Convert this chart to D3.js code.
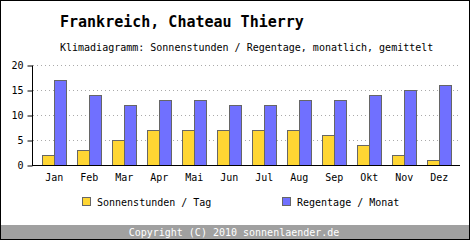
<!DOCTYPE html>
<html>
<head>
<meta charset="utf-8">
<script src="https://cdn.jsdelivr.net/npm/d3@7"></script>
<style>
  body { margin: 0; background: #fff; }
  text { font-family: "DejaVu Sans Mono", "Liberation Mono", monospace; }
</style>
</head>
<body>
<script>
// month names, sun hours per day, rain days per month
var months = ["Jan", "Feb", "Mar", "Apr", "Mai", "Jun", "Jul", "Aug", "Sep", "Okt", "Nov", "Dez"];
var sunHours = [2, 3, 5, 7, 7, 7, 7, 7, 6, 4, 2, 1];
var rainDays = [17, 14, 12, 13, 13, 12, 12, 13, 13, 14, 15, 16];
var yTicks = [0, 5, 10, 15, 20];

var width = 470, height = 240;

var svg = d3.select("body").append("svg")
    .attr("width", width)
    .attr("height", height);

svg.append("rect")
    .attr("x", 0.5).attr("y", 0.5)
    .attr("width", width - 1).attr("height", height - 1)
    .style("fill", "#fff")
    .style("stroke", "#000");

// title
svg.append("text")
    .attr("x", 60).attr("y", 27)
    .style("font-size", "15px")
    .style("font-weight", "bold")
    .text("Frankreich, Chateau Thierry");

svg.append("text")
    .attr("x", 60).attr("y", 51)
    .style("font-size", "10px")
    .text("Klimadiagramm: Sonnenstunden / Regentage, monatlich, gemittelt");

var xScale = d3.scaleBand()
    .domain(months)
    .range([36.8, 456.8]);

var yScale = d3.scaleLinear()
    .domain([0, 20])
    .range([165, 65]);

var barW = 12;

// grid lines
svg.selectAll("line.grid")
    .data(yTicks.slice(1))
    .enter()
    .append("line")
    .attr("class", "grid")
    .attr("x1", 33)
    .attr("x2", 460)
    .attr("y1", function (d) { return yScale(d) + 0.5; })
    .attr("y2", function (d) { return yScale(d) + 0.5; })
    .style("stroke", "#aaa")
    .style("stroke-dasharray", "1,3");

// sun bars
svg.selectAll("rect.sun")
    .data(sunHours)
    .enter()
    .append("rect")
    .attr("class", "sun")
    .attr("x", function (d, i) { return Math.round(xScale(months[i]) + xScale.bandwidth() / 2 - barW) + 0.5; })
    .attr("y", function (d) { return Math.round(yScale(d)) + 0.5; })
    .attr("width", barW)
    .attr("height", function (d) { return yScale(0) - Math.round(yScale(d)); })
    .style("fill", "#ffd633")
    .style("stroke", "#666");

// rain bars
svg.selectAll("rect.rain")
    .data(rainDays)
    .enter()
    .append("rect")
    .attr("class", "rain")
    .attr("x", function (d, i) { return Math.round(xScale(months[i]) + xScale.bandwidth() / 2) + 0.5; })
    .attr("y", function (d) { return Math.round(yScale(d)) + 0.5; })
    .attr("width", barW)
    .attr("height", function (d) { return yScale(0) - Math.round(yScale(d)); })
    .style("fill", "#7070ff")
    .style("stroke", "#666");

// axes
var yAxis = d3.axisLeft(yScale)
    .tickValues(yTicks)
    .tickSize(5)
    .tickPadding(4);
var yAxisGroup = svg.append("g")
    .attr("transform", "translate(32.5,0.5)")
    .call(yAxis);
yAxisGroup.select(".domain").attr("d", "M0,65V165");
yAxisGroup.selectAll("text").style("font-size", "10px").style("font-family", "DejaVu Sans Mono");

var xAxis = d3.axisBottom(xScale)
    .tickSize(0)
    .tickPadding(8);
var xAxisGroup = svg.append("g")
    .attr("transform", "translate(0,165.5)")
    .call(xAxis);
xAxisGroup.select(".domain").attr("d", "M32,0H460");
xAxisGroup.selectAll("text").style("font-size", "10px").style("font-family", "DejaVu Sans Mono");

// legend
var legendItems = [
    {label: "Sonnenstunden / Tag", color: "#ffd633", x: 82},
    {label: "Regentage / Monat", color: "#7070ff", x: 282}
];
var legend = svg.selectAll("g.legend")
    .data(legendItems)
    .enter()
    .append("g")
    .attr("class", "legend");
legend.append("rect")
    .attr("x", function (d) { return d.x + 0.5; })
    .attr("y", 197.5)
    .attr("width", 8).attr("height", 8)
    .style("fill", function (d) { return d.color; })
    .style("stroke", "#666");
legend.append("text")
    .attr("x", function (d) { return d.x + 15; })
    .attr("y", 206)
    .style("font-size", "10px")
    .text(function (d) { return d.label; });

// footer
svg.append("rect")
    .attr("x", 1).attr("y", 225)
    .attr("width", width - 2).attr("height", 14)
    .style("fill", "#a0a0a0");
svg.append("text")
    .attr("x", 234).attr("y", 236)
    .attr("text-anchor", "middle")
    .style("font-size", "10px")
    .style("fill", "#fff")
    .text("Copyright (C) 2010 sonnenlaender.de");
</script>
</body>
</html>
